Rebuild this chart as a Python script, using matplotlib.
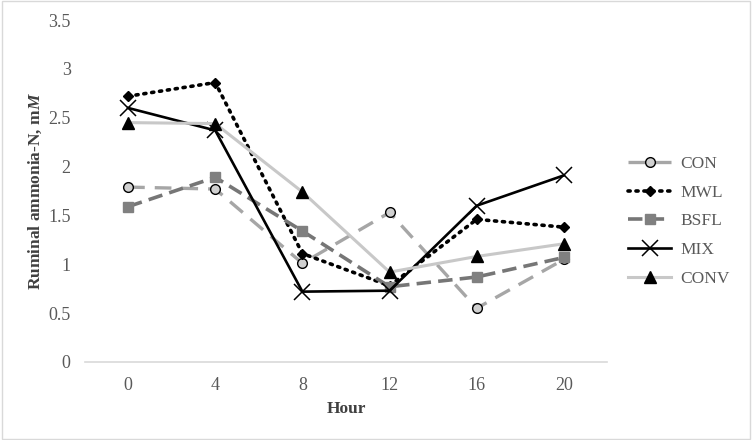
import matplotlib.pyplot as plt
from matplotlib.patches import Rectangle

hours = ["0", "4", "8", "12", "16", "20"]
con = [1.79, 1.77, 1.01, 1.53, 0.55, 1.05]
mwl = [2.72, 2.86, 1.11, 0.78, 1.46, 1.38]
bsfl = [1.59, 1.89, 1.34, 0.77, 0.87, 1.07]
mix = [2.60, 2.37, 0.72, 0.73, 1.60, 1.91]
conv = [2.45, 2.44, 1.74, 0.92, 1.08, 1.21]
yticks = [0, 0.5, 1, 1.5, 2, 2.5, 3, 3.5]
ytick_labels = ["0", "0.5", "1", "1.5", "2", "2.5", "3", "3.5"]

plt.rcParams["font.family"] = ["Liberation Serif", "DejaVu Serif"]
plt.rcParams["mathtext.fontset"] = "custom"
plt.rcParams["mathtext.rm"] = "Liberation Serif"
plt.rcParams["mathtext.it"] = "Liberation Serif:italic"
plt.rcParams["mathtext.bf"] = "Liberation Serif:bold"
plt.rcParams["mathtext.bfit"] = "Liberation Serif:italic:bold"

fig = plt.figure(figsize=(7.52, 4.40), dpi=100)
ax = fig.add_axes([0.1124, 0.1773, 0.6954, 0.7772])

x = list(range(len(hours)))

ax.plot(x, con, color="#a6a6a6", lw=2.4, ls=(0, (5, 3)), marker="o", ms=7,
        mfc="#d0d0d0", mec="black", mew=1, label="CON")
ax.plot(x, mwl, color="black", lw=2.6, ls=(0, (0.6, 1.6)), dash_capstyle="round",
        marker="D", ms=5, mfc="black", mec="black", label="MWL")
ax.plot(x, bsfl, color="#767676", lw=2.6, ls=(0, (4, 2)), marker="s", ms=7,
        mfc="#808080", mec="#808080", label="BSFL")
ax.plot(x, mix, color="black", lw=1.9, marker="x", ms=11, mew=1.1,
        mec="black", label="MIX")
ax.plot(x, conv, color="#c8c8c8", lw=2.2, marker="^", ms=8,
        mfc="black", mec="black", label="CONV")

ax.set_xlim(-0.5, len(hours) - 0.5)
ax.set_ylim(0, 3.5)
ax.set_xticks(x)
ax.set_xticklabels(hours)
ax.set_yticks(yticks)
ax.set_yticklabels(ytick_labels)
ax.tick_params(length=0, labelsize=13, colors="#595959", pad=10)
ax.tick_params(axis="x", pad=11)
for s in ["top", "right", "left"]:
    ax.spines[s].set_visible(False)
ax.spines["bottom"].set_color("#d9d9d9")
ax.spines["bottom"].set_linewidth(1.2)

ax.set_xlabel("Hour", fontsize=12.5, fontweight="bold", color="#404040", labelpad=5)
ax.set_ylabel("Ruminal ammonia-N, m$\\mathbfit{M}$", fontsize=12.5,
              fontweight="bold", color="#404040", labelpad=3)

leg = ax.legend(loc="center left", bbox_to_anchor=(0.835, 0.497),
                bbox_transform=fig.transFigure, frameon=False, fontsize=12.5,
                handlelength=2.5, labelspacing=0.72, handletextpad=0.5,
                borderaxespad=0, borderpad=0)
for t in leg.get_texts():
    t.set_color("#595959")

fig.patches.append(Rectangle((0.002, 0.003), 0.996, 0.994, transform=fig.transFigure,
                             fill=False, edgecolor="#d9d9d9", lw=1))

fig.savefig("out.png", dpi=100)
